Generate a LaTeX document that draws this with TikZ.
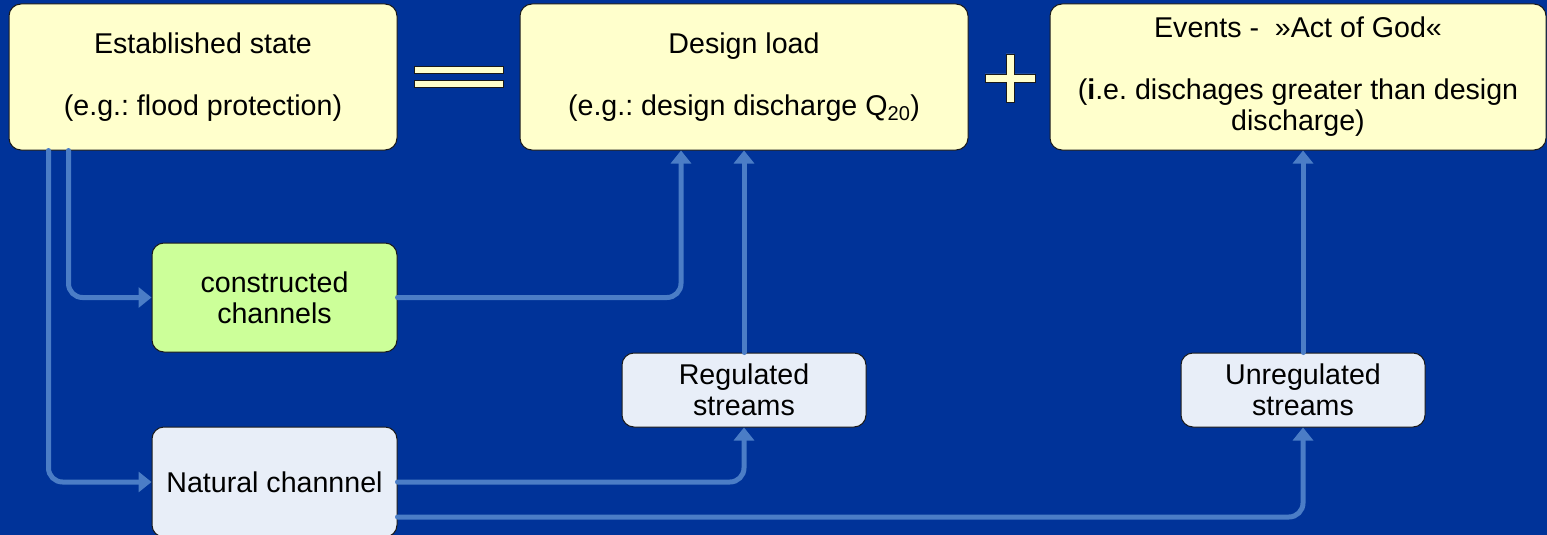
\documentclass[tikz,border=0pt]{standalone}
\usepackage{fontspec}
\setmainfont{Liberation Sans}
\usetikzlibrary{arrows.meta}
\frenchspacing
\definecolor{bgblue}{HTML}{003399}
\definecolor{boxyellow}{HTML}{FFFFCC}
\definecolor{boxgreen}{HTML}{CCFF99}
\definecolor{boxpale}{HTML}{E8EEF8}
\definecolor{linkblue}{HTML}{4B7DC6}
\definecolor{edge}{HTML}{1A1A1A}
\tikzset{
  box/.style={draw=edge, line width=1pt, rounded corners=12pt, inner sep=0pt,
    align=center, font=\fontsize{28.6}{31}\selectfont},
  link/.style={draw=linkblue, line width=5pt, rounded corners=14pt, line cap=round,
    -{Triangle[width=20pt,length=13pt]}},
  sign/.style={fill=boxyellow, draw=edge, line width=0.8pt}
}
\begin{document}
\begin{tikzpicture}[x=1pt,y=-1pt]
\clip (0,0) rectangle (1547,535);
\fill[bgblue] (0,0) rectangle (1547,535);

\node[box, fill=boxyellow, minimum width=388pt, minimum height=146pt] (est) at (203,77)
  {Established state\\[31pt](e.g.: flood protection)};
\node[box, fill=boxyellow, minimum width=448pt, minimum height=146pt] (des) at (744,77)
  {Design load\\[31pt](e.g.: design discharge Q\textsubscript{20})};
\node[box, fill=boxyellow, minimum width=496pt, minimum height=146pt] (evt) at (1298,77)
  {Events -\ \ »Act of God«\\[31pt](\textbf{i}.e. dischages greater than design\\discharge)};
\node[box, fill=boxgreen, minimum width=245pt, minimum height=109pt] (con) at (274.5,297.5)
  {constructed\\channels};
\node[box, fill=boxpale, minimum width=245pt, minimum height=110pt] (nat) at (274.5,482)
  {Natural channnel};
\node[box, fill=boxpale, minimum width=244pt, minimum height=74pt] (reg) at (744,390)
  {Regulated\\streams};
\node[box, fill=boxpale, minimum width=244pt, minimum height=74pt] (unr) at (1303,390)
  {Unregulated\\streams};

% equals sign
\draw[sign] (414,66) rectangle (503,73);
\draw[sign] (414,80) rectangle (503,87);
% plus sign
\draw[sign] (1006,54) -- (1014,54) -- (1014,74) -- (1035,74) -- (1035,82) -- (1014,82)
  -- (1014,102) -- (1006,102) -- (1006,82) -- (985,82) -- (985,74) -- (1006,74) -- cycle;

% connectors
\draw[link] ([xshift=40pt]est.south west) |- (nat.west);
\draw[link] ([xshift=60pt]est.south west) |- (con.west);
\draw[link] (con.east) -| ([xshift=-63pt]des.south);
\draw[link] (nat.east) -| (reg.south);
\draw[link] (reg.north) -- (des.south);
\draw[link] ([yshift=-35pt]nat.east) -| (unr.south);
\draw[link] (unr.north) -- (unr.north |- evt.south);
\end{tikzpicture}
\end{document}
